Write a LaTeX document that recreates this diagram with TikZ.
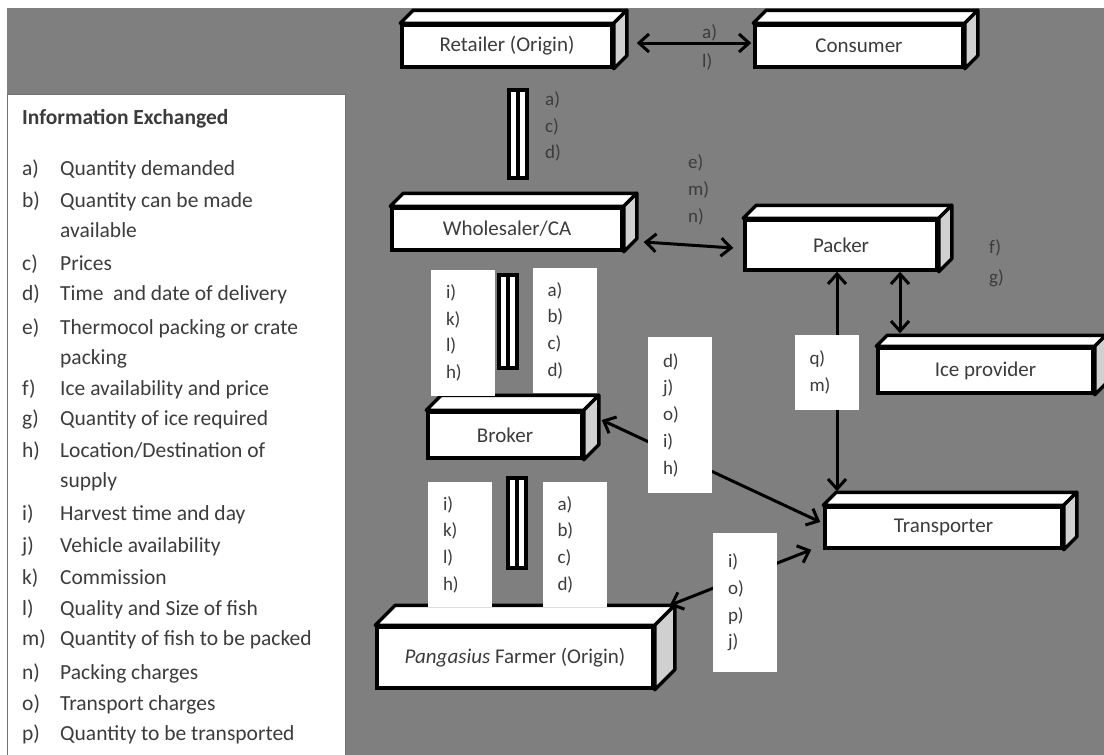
\documentclass[tikz,border=0pt]{standalone}
\usepackage{fontspec}
\setmainfont{Carlito}
\usetikzlibrary{arrows.meta}
\definecolor{bggrey}{HTML}{7F7F7F}
\definecolor{sidegrey}{HTML}{D0D0D0}
\definecolor{txtgrey}{HTML}{3C3C3C}

\begin{document}
\begin{tikzpicture}[x=1pt, y=-1pt,
    >={Straight Barb[length=10pt,width=18pt]},
    front/.style={draw=black, line width=3.5pt, fill=white, inner sep=0pt, text=txtgrey, font=\fontsize{21}{25}\selectfont},
    lab/.style={fill=white, inner xsep=15pt, inner ysep=0pt, text width=34pt, align=left, text=txtgrey, font=\fontsize{19}{26.7}\selectfont},
    freelab/.style={anchor=west, inner sep=0pt, align=left, text=txtgrey, font=\fontsize{19}{26.7}\selectfont},
    legtext/.style={anchor=base west, inner sep=0pt, text=txtgrey, font=\fontsize{21.5}{26}\selectfont},
    bar/.style={draw=black, line width=3.5pt, fill=white, minimum width=18pt, inner sep=0pt,
        path picture={\draw[line width=3.5pt] (path picture bounding box.north) -- (path picture bounding box.south);}},
    link/.style={draw=black, line width=3pt, <->}]

    % name, x, y, width, height, depth, text
    \newcommand{\cuboid}[7]{
        \node[front, minimum width=#4, minimum height=#5] (#1) at (#2,#3) {#7};
        \draw[line width=3.5pt, fill=white, line join=round] (#1.north west) -- ++(#6,-#6) -- ([shift={(#6,-#6)}]#1.north east) -- (#1.north east) -- cycle;
        \draw[line width=3.5pt, fill=sidegrey, line join=round] (#1.north east) -- ++(#6,-#6) -- ([shift={(#6,-#6)}]#1.south east) -- (#1.south east) -- cycle;
    }

    \useasboundingbox (0,0) rectangle (1104,755);
    \fill[bggrey] (7,8) rectangle (1104,755);

    % legend
    \draw[black!55, line width=1pt, fill=white] (7,94) rectangle (345,758);
    \node[legtext, font=\fontsize{21.5}{26}\selectfont\bfseries] (legtitle) at (22,124) {Information Exchanged};
    \foreach \y/\l/\t [count=\i] in {168/a)/Quantity demanded, 200/b)/Quantity can be made, 230//available,
        263/c)/Prices, 293/d)/Time~ and date of delivery, 327/e)/Thermocol packing or crate, 357//packing,
        388/f)/Ice availability and price, 418/g)/Quantity of ice required, 450/h)/{Location/Destination of},
        480//supply, 513/i)/Harvest time and day, 545/j)/Vehicle availability, 577/k)/Commission,
        608/l)/Quality and Size of fish, 638/m)/Quantity of fish to be packed, 672/n)/Packing charges,
        703/o)/Transport charges, 733/p)/Quantity to be transported} {
        \node[legtext] (legl\i) at (22,\y+7) {\l};
        \node[legtext] (legt\i) at (60,\y+7) {\t};
    }

    % actors
    \cuboid{retailer}{507}{46}{210}{42}{13}{Retailer (Origin)}
    \cuboid{consumer}{859}{46}{208}{42}{13}{Consumer}
    \cuboid{wholesaler}{507}{229}{230}{42}{13}{Wholesaler/CA}
    \cuboid{packer}{841}{245}{192}{50}{13}{Packer}
    \cuboid{ice}{985.5}{370.5}{215}{45}{11}{Ice provider}
    \cuboid{broker}{505}{435}{154}{46}{15}{Broker}
    \cuboid{transporter}{943.5}{527.5}{237}{41}{13}{Transporter}
    \cuboid{farmer}{515}{657.5}{276}{61}{20}{\textit{Pangasius} Farmer (Origin)}

    % two-way links
    \draw[link] ([xshift=23pt,yshift=3pt]retailer.east) -- ([xshift=-2pt,yshift=3pt]consumer.west);
    \draw[link] ([xshift=20pt,yshift=-13pt]wholesaler.east) -- ([xshift=-10pt,yshift=-3pt]packer.west);
    \draw[link] ([xshift=-4pt]packer.south) -- ([xshift=-106.5pt,yshift=14pt]transporter.north);
    \draw[link] ([xshift=59pt]packer.south) -- ([xshift=-85.5pt,yshift=13pt]ice.north);
    \draw[link] ([xshift=18pt,yshift=15pt]broker.east) -- ([xshift=-3pt,yshift=5.5pt]transporter.west);
    \draw[link] ([xshift=15pt,yshift=20pt]farmer.north east) -- ([xshift=-12pt]transporter.south west);

    % direct links
    \node[bar, minimum height=88] (bar1) at (518,134) {};
    \node[bar, minimum height=93] (bar2) at (508,321.5) {};
    \node[bar, minimum height=90] (bar3) at (517,523) {};

    % exchanged items
    \node[freelab, font=\fontsize{19}{29}\selectfont] (lblRC) at (702,47.5) {a)\\l)};
    \node[freelab] (lblRW) at (545,126.5) {a)\\c)\\d)};
    \node[freelab] (lblWP) at (688,190) {e)\\m)\\n)};
    \node[freelab, font=\fontsize{19}{30}\selectfont] (lblPI) at (989,263) {f)\\g)};
    \node[lab, minimum height=126] (lbBrk) at (463,333) {i)\\k)\\l)\\h)};
    \node[lab, minimum height=125] (rbBrk) at (564.5,330.5) {a)\\b)\\c)\\d)};
    \node[lab, minimum height=75] (lbPT) at (826.5,372.5) {q)\\m)};
    \node[lab, minimum height=156] (lbBT) at (680,415) {d)\\j)\\o)\\i)\\h)};
    \node[lab, minimum height=125] (lbFarm) at (460,544.5) {i)\\k)\\l)\\h)};
    \node[lab, minimum height=125] (rbFarm) at (574.5,544.5) {a)\\b)\\c)\\d)};
    \node[lab, minimum height=139] (lbFT) at (745,602.5) {i)\\o)\\p)\\j)};
\end{tikzpicture}
\end{document}
